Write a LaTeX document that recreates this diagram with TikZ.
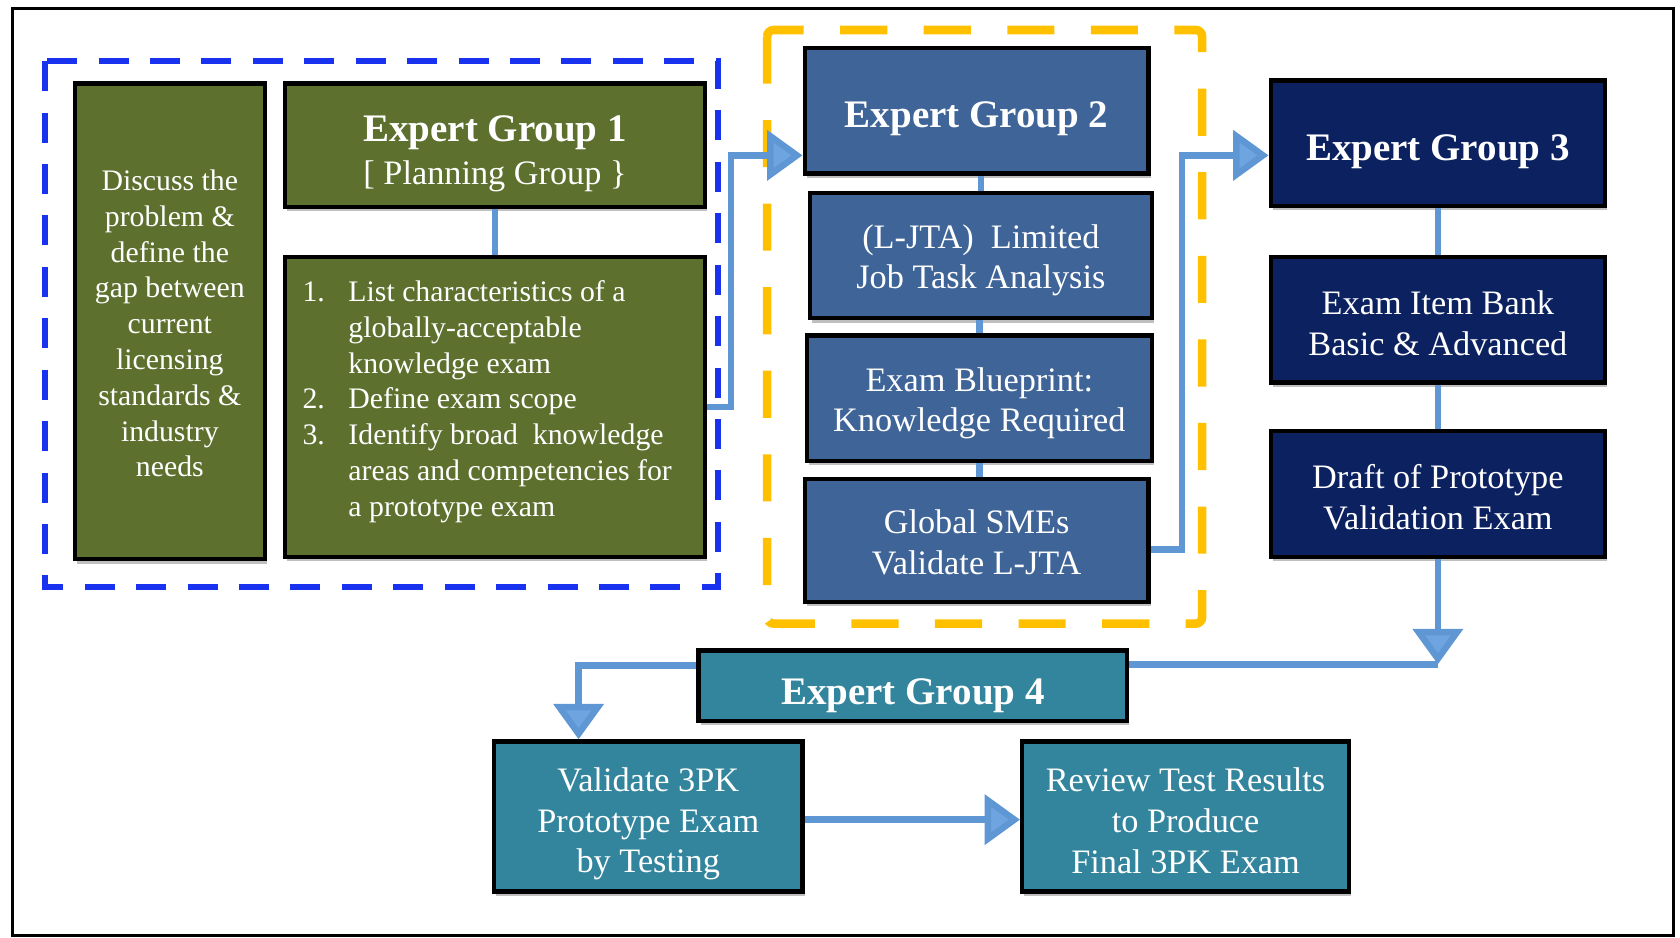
\documentclass[tikz,border=0pt]{standalone}
\usepackage{fontspec}
\setmainfont{Liberation Serif}
\usetikzlibrary{arrows.meta,shadows}
\definecolor{olive}{RGB}{93,112,46}
\definecolor{midblue}{RGB}{63,100,152}
\definecolor{navy}{RGB}{12,33,96}
\definecolor{teal4}{RGB}{50,133,156}
\definecolor{connblue}{RGB}{95,150,212}
\definecolor{tipblue}{RGB}{110,165,225}
\definecolor{dashblue}{RGB}{25,50,240}
\definecolor{dashorange}{RGB}{255,192,0}
\tikzset{
  box/.style={draw=black, line width=2pt, inner sep=0pt,
    drop shadow={shadow xshift=1pt, shadow yshift=-2pt, fill=black, opacity=0.25}},
  txt/.style={text=white, align=center, inner sep=0pt},
  body/.style={txt, font=\fontsize{13.9}{16.7}\selectfont},
  mid/.style={txt, font=\fontsize{16}{19}\selectfont},
  ttl/.style={txt, font=\bfseries\fontsize{18.2}{21}\selectfont},
  conn/.style={draw=connblue, line width=3pt},
  arr/.style={-{Triangle[width=23pt,length=16.5pt,fill=tipblue]}}
}
\begin{document}
\begin{tikzpicture}[x=0.5pt,y=-0.5pt]
\useasboundingbox (0,0) rectangle (1568,875);
% outer frame
\draw[line width=1.5pt] (12,8) rectangle (1562,873);
% group frames
\draw[dashblue, line width=3pt, dash pattern=on 14pt off 10pt] (42,57) rectangle (670,548);
\draw[dashorange, line width=4pt, dash pattern=on 22pt off 17pt, rounded corners=3pt] (716,28) rectangle (1122,582);

% Expert group 1
\node[box, fill=olive, minimum width=88.5pt, minimum height=222pt] (lg) at (158.5,300) {};
\node[body] (lgt) at (158.5,302) {Discuss the\\problem \&\\define the\\gap between\\current\\licensing\\standards \&\\industry\\needs};
\node[box, fill=olive, minimum width=196pt, minimum height=57.5pt] (eg1) at (462,135.5) {};
\node[ttl] (eg1t) at (462,124) {Expert Group 1};
\node[mid] (eg1s) at (462,165) {[ Planning Group \}};
\node[box, fill=olive, minimum width=196pt, minimum height=140pt] (list) at (462,380) {};
\node[body, anchor=west] (listt) at (282,375) {%
  \begin{tabular}{@{}l@{\hspace{11pt}}l@{}}
  1. & List characteristics of a\\
     & globally-acceptable\\
     & knowledge exam\\
  2. & Define exam scope\\
  3. & Identify broad\ \ knowledge\\
     & areas and competencies for\\
     & a prototype exam
  \end{tabular}};

% Expert group 2
\node[box, fill=midblue, minimum width=160.5pt, minimum height=58.5pt] (eg2) at (911.5,103.5) {};
\node[ttl] (eg2t) at (911.5,110.5) {Expert Group 2};
\node[box, fill=midblue, minimum width=159.5pt, minimum height=58.5pt] (ljta) at (915.5,238.5) {};
\node[mid] (ljtat) at (915.5,243) {(L-JTA)\ \ Limited\\Job Task Analysis};
\node[box, fill=midblue, minimum width=161pt, minimum height=58.5pt] (bp) at (914,371.5) {};
\node[mid] (bpt) at (914,376.5) {Exam Blueprint:\\Knowledge Required};
\node[box, fill=midblue, minimum width=160.5pt, minimum height=57.5pt] (sme) at (911.5,504.5) {};
\node[mid] (smet) at (911.5,506.5) {Global SMEs\\Validate L-JTA};

% Expert group 3
\node[box, fill=navy, minimum width=156pt, minimum height=58.5pt] (eg3) at (1342,133.5) {};
\node[ttl] (eg3t) at (1342,141.5) {Expert Group 3};
\node[box, fill=navy, minimum width=156pt, minimum height=58.5pt] (bank) at (1342,298.5) {};
\node[mid] (bankt) at (1342,301.5) {Exam Item Bank\\Basic \& Advanced};
\node[box, fill=navy, minimum width=156pt, minimum height=59pt] (draft) at (1342,461) {};
\node[mid] (draftt) at (1342,464) {Draft of Prototype\\Validation Exam};

% Expert group 4
\node[box, fill=teal4, minimum width=200pt, minimum height=33pt] (eg4) at (852,640) {};
\node[ttl] (eg4t) at (852,649) {Expert Group 4};
\node[box, fill=teal4, minimum width=144pt, minimum height=70pt] (val) at (605,762) {};
\node[mid] (valt) at (605,769) {Validate 3PK\\Prototype Exam\\by Testing};
\node[box, fill=teal4, minimum width=152.5pt, minimum height=70pt] (rev) at (1106.5,762) {};
\node[mid] (revt) at (1106.5,766) {Review Test Results\\to Produce\\Final 3PK Exam};

% connectors
\draw[conn] (eg1.south) -- (list.north);
\draw[conn] (ljta.north) -- (ljta.north |- eg2.south);
\draw[conn] (bp.north) -- (bp.north |- ljta.south);
\draw[conn] (bp.south) -- (bp.south |- sme.north);
\draw[conn] (eg3.south) -- (bank.north);
\draw[conn] (bank.south) -- (draft.north);

\coordinate (b1) at (682,145);
\draw[conn, arr] (list.east) -| (b1) -- (b1 -| eg2.west);
\coordinate (b2) at (1103,145);
\draw[conn, arr] ([yshift=-4.25pt]sme.east) -| (b2) -- (b2 -| eg3.west);
\coordinate (b3) at (1342,620);
\draw[conn] (eg4.east |- b3) -- (b3);
\draw[conn, arr] (draft.south) -- (b3);
\coordinate (b4) at (540,621);
\draw[conn, arr] (eg4.west |- b4) -- (b4) -- (b4 |- val.north);
\draw[conn, arr] ([yshift=-1.5pt]val.east) -- ([yshift=-1.5pt]rev.west);
\end{tikzpicture}
\end{document}
